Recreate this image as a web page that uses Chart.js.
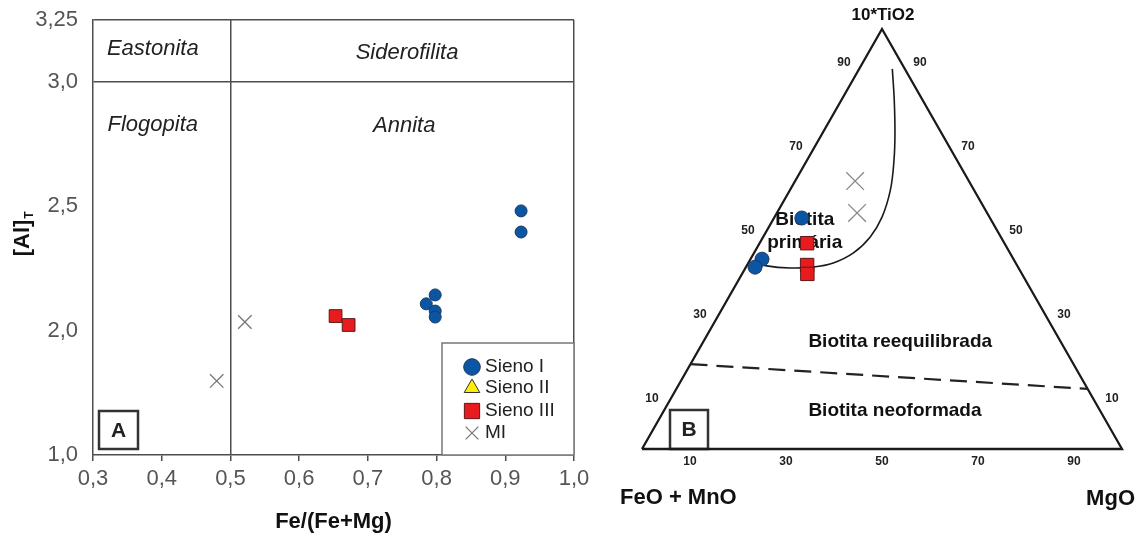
<!DOCTYPE html>
<html>
<head>
<meta charset="utf-8">
<script src="https://cdn.jsdelivr.net/npm/chart.js@4.4.1/dist/chart.umd.min.js"></script>
<style>
  html, body { margin: 0; padding: 0; background: #fff; }
  #wrap { position: relative; width: 1148px; height: 536px; }
  canvas { position: absolute; top: 0; }
  #chartA { left: 0; }
  #chartB { left: 620px; }
</style>
</head>
<body>
<div id="wrap">
  <canvas id="chartA" width="620" height="536"></canvas>
  <canvas id="chartB" width="528" height="536"></canvas>
</div>
<script>
// ---- panel A : [Al]T vs Fe/(Fe+Mg) ----
const xTickValues = [0.3, 0.4, 0.5, 0.6, 0.7, 0.8, 0.9, 1.0];
const xTickLabels = ['0,3', '0,4', '0,5', '0,6', '0,7', '0,8', '0,9', '1,0'];
// bottom label of the original reads "1,0" although it sits half a step below 2,0
const yTickValues = [1.5, 2.0, 2.5, 3.0, 3.25];
const yTickLabels = ['1,0', '2,0', '2,5', '3,0', '3,25'];

const sieno1Fe = [0.923, 0.923, 0.798, 0.785, 0.798, 0.798];
const sieno1Al = [2.482, 2.397, 2.144, 2.108, 2.079, 2.055];
const sieno2Fe = [];
const sieno2Al = [];
const sieno3Fe = [0.653, 0.672];
const sieno3Al = [2.059, 2.023];
const miFe = [0.521, 0.480];
const miAl = [2.035, 1.798];

const fieldNames = ['Eastonita', 'Siderofilita', 'Flogopita', 'Annita'];

// ---- panel B : ternary 10*TiO2 - (FeO+MnO) - MgO ----
const ternTicks = [10, 30, 50, 70, 90];

const sieno1TiO2 = [55.0, 45.2, 43.3];
const sieno1FeO = [39.2, 52.4, 54.8];
const sieno1MgO = [5.8, 2.4, 1.9];
const sieno3TiO2 = [49.0, 43.8, 41.7];
const sieno3FeO = [41.1, 43.7, 44.7];
const sieno3MgO = [9.9, 12.5, 13.6];
const miTiO2 = [63.8, 56.2];
const miFeO = [23.7, 27.1];
const miMgO = [12.5, 16.7];

// boundary of the primary biotite field
const primaryTiO2 = [90.5, 83.1, 75.2, 68.8, 61.7, 55.2, 50.5, 46.7, 44.3, 43.3, 43.1, 43.6, 44.3];
const primaryMgO = [6.9, 11.0, 15.1, 18.1, 20.9, 22.4, 22.3, 20.7, 17.7, 13.9, 9.3, 4.2, 2.5];
// reequilibrated / neoformed limit
const limitTiO2 = [20.2, 14.3];
const limitMgO = [0, 85.7];

const FONT = '"Liberation Sans", Arial, Helvetica, sans-serif';
Chart.defaults.font.family = FONT;

function tern(ti, fe, mg) {
  const s = ti + fe + mg;
  return { x: 100 * (mg + ti / 2) / s, y: 100 * ti / s };
}

function pts(xs, ys) {
  return xs.map((x, i) => ({ x: x, y: ys[i] }));
}

function ternPts(tis, fes, mgs) {
  return tis.map((t, i) => tern(t, fes[i], mgs[i]));
}

function drawText(ctx, text, x, y, font, color, align) {
  ctx.save();
  ctx.font = font;
  ctx.fillStyle = color;
  ctx.textAlign = align || 'center';
  ctx.textBaseline = 'middle';
  ctx.fillText(text, x, y);
  ctx.restore();
}

function letterBox(ctx, letter, left, top, w, h) {
  ctx.save();
  ctx.strokeStyle = '#333';
  ctx.lineWidth = 2.5;
  ctx.strokeRect(left, top, w, h);
  ctx.restore();
  drawText(ctx, letter, left + w / 2, top + h / 2 + 1, 'bold 21px ' + FONT, '#222');
}

const frame = '#4d4d4d';

// ---------- chart A ----------
const panelA = {
  id: 'panelA',
  beforeDatasetsDraw(chart) {
    const { ctx, scales } = chart;
    const X = v => scales.x.getPixelForValue(v);
    const Y = v => scales.y.getPixelForValue(v);
    const f = 'italic 22px ' + FONT;
    drawText(ctx, fieldNames[0], X(0.387), Y(3.132), f, '#222');
    drawText(ctx, fieldNames[1], X(0.757), Y(3.118), f, '#222');
    drawText(ctx, fieldNames[2], X(0.387), Y(2.828), f, '#222');
    drawText(ctx, fieldNames[3], X(0.753), Y(2.824), f, '#222');
  },
  afterDraw(chart) {
    const { ctx, chartArea } = chart;
    // y title [Al]T
    ctx.save();
    ctx.translate(23, 238);
    ctx.rotate(-Math.PI / 2);
    ctx.fillStyle = '#111';
    ctx.font = 'bold 22px ' + FONT;
    ctx.textAlign = 'center';
    ctx.textBaseline = 'middle';
    ctx.fillText('[Al]', 0, 0);
    const w = ctx.measureText('[Al]').width;
    ctx.font = 'bold 12px ' + FONT;
    ctx.textAlign = 'left';
    ctx.fillText('T', w / 2 + 1, 7);
    ctx.restore();

    letterBox(ctx, 'A', chartArea.left + 6, chartArea.bottom - 44, 39, 38);

    // legend box
    const bw = 132, bh = 112;
    const bx = chartArea.right - bw, by = chartArea.bottom - bh;
    ctx.save();
    ctx.fillStyle = '#fff';
    ctx.fillRect(bx, by, bw, bh);
    ctx.strokeStyle = '#777';
    ctx.lineWidth = 1.5;
    ctx.strokeRect(bx, by, bw, bh);
    ctx.restore();
    const rows = [24, 45, 68, 90];
    chart.data.datasets.forEach((ds, i) => {
      const y = by + rows[i];
      ctx.save();
      ctx.fillStyle = ds.pointBackgroundColor;
      ctx.strokeStyle = ds.pointBorderColor;
      ctx.lineWidth = ds.pointBorderWidth;
      Chart.helpers.drawPoint(ctx, {
        pointStyle: ds.pointStyle, radius: ds.legendRadius, rotation: 0,
        borderWidth: ds.pointBorderWidth
      }, bx + 30, y);
      ctx.restore();
      drawText(ctx, ds.label, bx + 43, y, '19px ' + FONT, '#222', 'left');
    });
  }
};

const chartA = new Chart(document.getElementById('chartA'), {
  type: 'scatter',
  data: {
    datasets: [
      { label: 'Sieno I', data: pts(sieno1Fe, sieno1Al), pointStyle: 'circle', pointRadius: 6,
        pointBackgroundColor: '#0b55a5', pointBorderColor: '#1d3a5f', pointBorderWidth: 1, legendRadius: 8.3 },
      { label: 'Sieno II', data: pts(sieno2Fe, sieno2Al), pointStyle: 'triangle', pointRadius: 7,
        pointBackgroundColor: '#ffee00', pointBorderColor: '#333', pointBorderWidth: 1, legendRadius: 9 },
      { label: 'Sieno III', data: pts(sieno3Fe, sieno3Al), pointStyle: 'rect', pointRadius: 9,
        pointBackgroundColor: '#e81c1f', pointBorderColor: '#5e1717', pointBorderWidth: 1, legendRadius: 10.8 },
      { label: 'MI', data: pts(miFe, miAl), pointStyle: 'crossRot', pointRadius: 9.5,
        pointBackgroundColor: '#777', pointBorderColor: '#777', pointBorderWidth: 1.3, legendRadius: 9 }
    ]
  },
  options: {
    responsive: false,
    animation: false,
    events: [],
    layout: { padding: { top: 20, right: 46, left: 0, bottom: 0 } },
    plugins: { legend: { display: false }, tooltip: { enabled: false } },
    scales: {
      x: {
        type: 'linear', min: 0.3, max: 1.0,
        afterBuildTicks: s => { s.ticks = xTickValues.map(v => ({ value: v })); },
        afterFit: s => { s.height = 81; s.paddingLeft = 0; s.paddingRight = 0; },
        ticks: { callback: (v, i) => xTickLabels[i], color: '#555', font: { size: 22 }, padding: 5,
                 maxRotation: 0, autoSkip: false },
        grid: { color: c => (c.tick && (c.tick.value === 0.5 || c.tick.value === 1.0)) ? frame : 'rgba(0,0,0,0)',
                lineWidth: 1.5, tickLength: 6, tickColor: frame, drawTicks: true },
        border: { display: true, color: frame, width: 1.5 },
        title: { display: true, text: 'Fe/(Fe+Mg)', color: '#111', font: { size: 22, weight: 'bold' },
                 padding: { top: 0, bottom: 1 } }
      },
      y: {
        type: 'linear', min: 1.5, max: 3.25,
        afterBuildTicks: s => { s.ticks = yTickValues.map(v => ({ value: v })); },
        afterFit: s => { s.width = 93; s.paddingTop = 0; s.paddingBottom = 0; },
        ticks: { callback: (v, i) => yTickLabels[i], color: '#555', font: { size: 22 }, padding: 15, autoSkip: false },
        grid: { color: c => (c.tick && (c.tick.value === 3.0 || c.tick.value === 3.25)) ? frame : 'rgba(0,0,0,0)',
                lineWidth: 1.5, drawTicks: false },
        border: { display: true, color: frame, width: 1.5 }
      }
    }
  },
  plugins: [panelA]
});

// ---------- chart B ----------
const panelB = {
  id: 'panelB',
  beforeDatasetsDraw(chart) {
    const { ctx, scales } = chart;
    const P = p => ({ x: scales.x.getPixelForValue(p.x), y: scales.y.getPixelForValue(p.y) });
    const tf = 'bold 12px ' + FONT;
    ternTicks.forEach(v => {
      const l = P(tern(v, 100 - v, 0));
      drawText(ctx, String(v), l.x - 14, l.y - 8, tf, '#222');
      const r = P(tern(v, 0, 100 - v));
      drawText(ctx, String(v), r.x + 14, r.y - 8, tf, '#222');
      const b = P(tern(0, 100 - v, v));
      drawText(ctx, String(v), b.x, b.y + 13, tf, '#222');
    });
    const top = P(tern(100, 0, 0));
    drawText(ctx, '10*TiO2', top.x + 1, top.y - 14, 'bold 17px ' + FONT, '#111');
    const bl = P(tern(0, 100, 0));
    drawText(ctx, 'FeO + MnO', bl.x - 22, bl.y + 49, 'bold 22px ' + FONT, '#111', 'left');
    const br = P(tern(0, 0, 100));
    drawText(ctx, 'MgO', br.x + 13, br.y + 50, 'bold 22px ' + FONT, '#111', 'right');

    const rf = 'bold 19px ' + FONT;
    const at = (x, y) => P({ x: x, y: y });
    let q = at(33.9, 54.5); drawText(ctx, 'Biotita', q.x, q.y, rf, '#111');
    q = at(33.9, 49.0); drawText(ctx, 'primária', q.x, q.y, rf, '#111');
    q = at(53.8, 25.5); drawText(ctx, 'Biotita reequilibrada', q.x, q.y, rf, '#111');
    q = at(52.7, 9.0); drawText(ctx, 'Biotita neoformada', q.x, q.y, rf, '#111');

    letterBox(ctx, 'B', chart.chartArea.left + 28, chart.chartArea.bottom - 39, 38, 39);
  }
};

const lineBase = { showLine: true, pointRadius: 0, fill: false, clip: false, borderColor: '#1a1a1a' };

const chartB = new Chart(document.getElementById('chartB'), {
  type: 'scatter',
  data: {
    datasets: [
      { label: 'Sieno I', data: ternPts(sieno1TiO2, sieno1FeO, sieno1MgO), pointStyle: 'circle', pointRadius: 7,
        pointBackgroundColor: '#0b55a5', pointBorderColor: '#1d3a5f', pointBorderWidth: 1, clip: false },
      { label: 'Sieno II', data: [], pointStyle: 'triangle', pointRadius: 7,
        pointBackgroundColor: '#ffee00', pointBorderColor: '#333', pointBorderWidth: 1 },
      { label: 'Sieno III', data: ternPts(sieno3TiO2, sieno3FeO, sieno3MgO), pointStyle: 'rect', pointRadius: 9.5,
        pointBackgroundColor: '#e81c1f', pointBorderColor: '#5e1717', pointBorderWidth: 1, clip: false },
      { label: 'MI', data: ternPts(miTiO2, miFeO, miMgO), pointStyle: 'crossRot', pointRadius: 12.5,
        pointBackgroundColor: '#888', pointBorderColor: '#888', pointBorderWidth: 1.3, clip: false },
      Object.assign({ label: 'primary', borderWidth: 1.6, tension: 0.4,
        data: ternPts(primaryTiO2, primaryTiO2.map((t, i) => 100 - t - primaryMgO[i]), primaryMgO) }, lineBase),
      Object.assign({ label: 'limit', borderWidth: 2.2, borderDash: [17, 9],
        data: ternPts(limitTiO2, limitTiO2.map((t, i) => 100 - t - limitMgO[i]), limitMgO) }, lineBase,
        { borderColor: '#222' }),
      Object.assign({ label: 'frame', borderWidth: 2.3,
        data: [tern(0, 100, 0), tern(0, 0, 100), tern(100, 0, 0), tern(0, 100, 0)] }, lineBase)
    ]
  },
  options: {
    responsive: false,
    animation: false,
    events: [],
    layout: { padding: { left: 22, right: 26, top: 29, bottom: 87 } },
    plugins: { legend: { display: false }, tooltip: { enabled: false } },
    scales: {
      x: { type: 'linear', min: 0, max: 100, display: false },
      y: { type: 'linear', min: 0, max: 100, display: false }
    }
  },
  plugins: [panelB]
});
</script>
</body>
</html>
